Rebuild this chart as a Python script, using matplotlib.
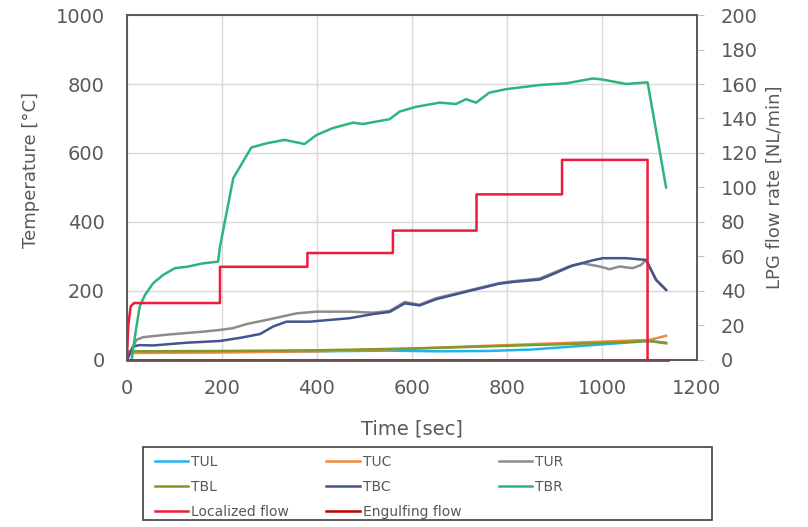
import matplotlib
matplotlib.use("Agg")
import matplotlib.pyplot as plt
from matplotlib.ticker import MultipleLocator
from matplotlib.patches import Rectangle

# ---- data ----
t_TBR = [10, 17, 27, 38, 55, 76, 101, 126, 160, 192, 196, 224, 262, 294, 332, 374, 399, 433, 476, 497,
         553, 574, 609, 658, 693, 714, 735, 763, 798, 869, 925, 981, 1001, 1051, 1096, 1135]
TBR = [0, 68, 155, 188, 222, 246, 266, 270, 280, 285, 328, 527, 616, 628, 638, 626, 652, 672, 688, 684,
       698, 720, 734, 746, 742, 756, 746, 775, 785, 797, 802, 816, 813, 800, 805, 500]

t_TBC = [0, 13, 27, 55, 126, 196, 238, 280, 308, 336, 385, 469, 518, 553, 585, 616, 651, 721, 784, 812,
         869, 897, 939, 981, 1002, 1051, 1093, 1114, 1135]
TBC = [0, 39, 43, 42, 50, 55, 64, 75, 97, 111, 111, 121, 133, 139, 164, 158, 176, 200, 221, 226,
       233, 249, 274, 289, 295, 295, 290, 232, 203]

t_TUR = [0, 20, 34, 90, 160, 196, 223, 252, 294, 357, 399, 469, 518, 553, 585, 616, 651, 721, 784, 812,
         869, 897, 932, 960, 995, 1016, 1037, 1064, 1082, 1093, 1114, 1135]
TUR = [0, 58, 66, 74, 82, 87, 92, 104, 116, 135, 140, 140, 137, 142, 168, 160, 179, 202, 223, 228,
       236, 252, 272, 280, 271, 263, 271, 266, 275, 290, 232, 203]

t_TUL = [0, 200, 400, 550, 650, 760, 850, 950, 1050, 1100, 1135]
TUL = [22, 23, 25, 27, 25, 26, 30, 40, 50, 55, 50]

t_TUC = [0, 200, 400, 600, 800, 1000, 1100, 1135]
TUC = [20, 22, 25, 33, 43, 53, 58, 70]

t_TBL = [0, 200, 400, 600, 800, 1000, 1100, 1135]
TBL = [25, 26, 28, 33, 41, 49, 55, 48]

t_loc = [0, 3, 8, 15, 196, 196, 380, 380, 560, 560, 736, 736, 916, 916, 1096, 1096]
loc_flow = [0, 20, 31, 33, 33, 54, 54, 62, 62, 75, 75, 96, 96, 116, 116, 0]

t_eng = [0, 1140]
eng_flow = [0, 0]

x_ticks = [0, 200, 400, 600, 800, 1000, 1200]
y_left_ticks = [0, 200, 400, 600, 800, 1000]

# ---- figure ----
fig = plt.figure(figsize=(8.08, 5.27), dpi=100)
ax = fig.add_axes([0.157, 0.317, 0.7056, 0.6545])
ax2 = ax.twinx()

tick_col = "#595959"
lw = 1.8

l1, = ax.plot(t_TUL, TUL, color="#1fb4ee", lw=lw, label="TUL")
l2, = ax.plot(t_TUC, TUC, color="#f08a3c", lw=lw, label="TUC")
l3, = ax.plot(t_TUR, TUR, color="#8c8c8c", lw=lw, label="TUR")
l4, = ax.plot(t_TBL, TBL, color="#7f9a2a", lw=lw, label="TBL")
l5, = ax.plot(t_TBC, TBC, color="#44548f", lw=lw, label="TBC")
l6, = ax.plot(t_TBR, TBR, color="#2db57a", lw=lw, label="TBR")
l7, = ax2.plot(t_loc, loc_flow, color="#ec1c3a", lw=lw, label="Localized flow")
l8, = ax2.plot(t_eng, eng_flow, color="#c00000", lw=lw, label="Engulfing flow", clip_on=False)

ax.set_xlim(0, 1200)
ax.set_ylim(0, 1000)
ax2.set_ylim(0, 200)
ax.set_xticks(x_ticks)
ax.set_yticks(y_left_ticks)
ax2.yaxis.set_major_locator(MultipleLocator(20))

ax.grid(True, color="#d9d9d9", lw=1.0)
ax.set_axisbelow(True)

ax.tick_params(axis="x", length=0, labelsize=14, labelcolor=tick_col, pad=14)
ax.tick_params(axis="y", length=0, labelsize=14, labelcolor=tick_col, pad=16)
ax2.tick_params(axis="y", length=5, color="#bfbfbf", labelsize=14, labelcolor=tick_col, pad=12)

for a in (ax, ax2):
    for s in a.spines.values():
        s.set_color("#595959")
        s.set_linewidth(1.2)

ax.set_xlabel("Time [sec]", fontsize=14, color=tick_col, labelpad=15)
ax.set_ylabel("Temperature [°C]", fontsize=13, color=tick_col)
ax.yaxis.set_label_coords(-0.153, 0.55)
ax2.set_ylabel("LPG flow rate [NL/min]", fontsize=13, color=tick_col, labelpad=6)

# legend: row-major order as in the reference (TUL TUC TUR / TBL TBC TBR / Localized Engulfing)
handles = [l1, l4, l7, l2, l5, l8, l3, l6]
leg = fig.legend(handles=handles, ncol=3, loc="upper left",
                 bbox_to_anchor=(155 / 808, 1 - 455 / 527),
                 fontsize=10, frameon=False,
                 handlelength=2.4, handletextpad=0.2, borderaxespad=0, labelspacing=0.8,
                 columnspacing=2.7, borderpad=0.0)
for txt in leg.get_texts():
    txt.set_color(tick_col)

fig.patches.append(Rectangle((143 / 808, 1 - 520 / 527), (712 - 143) / 808, 73 / 527,
                             transform=fig.transFigure, fill=False, edgecolor="#404040", lw=1.2))

fig.savefig("out.png", dpi=100)
